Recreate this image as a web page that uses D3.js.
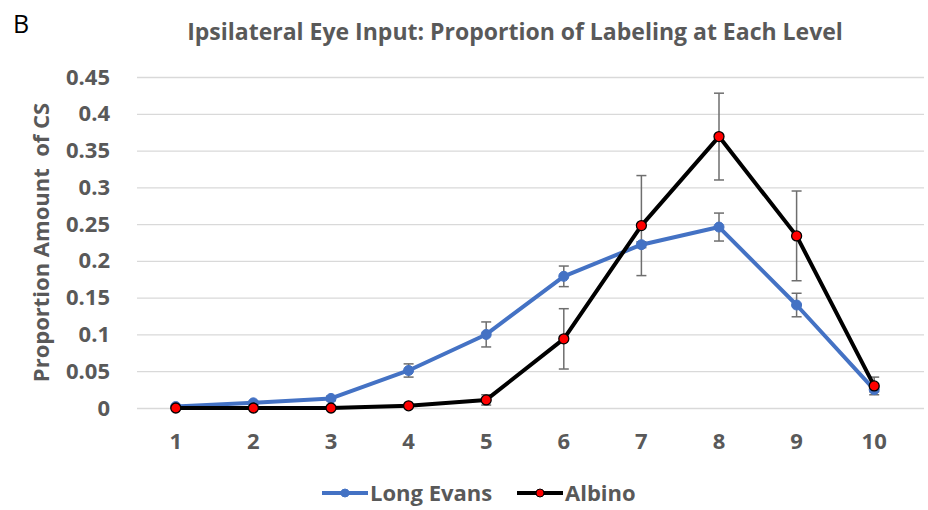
<!DOCTYPE html>
<html>
<head>
<meta charset="utf-8">
<script src="https://cdn.jsdelivr.net/npm/d3@7"></script>
<style>
  body { margin: 0; background: #fff; }
  svg text { font-family: "Open Sans", "Noto Sans", sans-serif; }
</style>
</head>
<body>
<div id="chart"></div>
<script>
const levels = [1, 2, 3, 4, 5, 6, 7, 8, 9, 10];
const yTicks = [0, 0.05, 0.1, 0.15, 0.2, 0.25, 0.3, 0.35, 0.4, 0.45];

const longEvans = [0.002, 0.007, 0.013, 0.051, 0.100, 0.179, 0.222, 0.246, 0.140, 0.025];
const longEvansErr = [0.001, 0.002, 0.003, 0.009, 0.017, 0.014, 0.004, 0.019, 0.016, 0.003];

const albino = [0, 0, 0, 0.003, 0.011, 0.094, 0.248, 0.369, 0.234, 0.030];
const albinoErr = [0, 0, 0, 0.001, 0.007, 0.041, 0.068, 0.059, 0.061, 0.012];

const W = 928;
const H = 510;
const margin = { t: 77, r: 15, b: 102, l: 137 };
const gridRight = 924;

const svg = d3.select('#chart')
  .append('svg')
  .attr('width', W)
  .attr('height', H);

const scaleX = d3.scaleBand()
  .domain(levels)
  .range([margin.l, W - margin.r]);

const scaleY = d3.scaleLinear()
  .domain([0, 0.45])
  .range([H - margin.b, margin.t]);

const cx = (d) => scaleX(d) + scaleX.bandwidth() / 2;

// panel letter + title
svg.append('text')
  .attr('x', 13)
  .attr('y', 33)
  .style('font-size', '25px')
  .style('fill', '#000')
  .text('B');

svg.append('text')
  .attr('x', 515)
  .attr('y', 40)
  .attr('text-anchor', 'middle')
  .style('font-size', '23px')
  .style('font-weight', 'bold')
  .style('fill', '#595959')
  .text('Ipsilateral Eye Input: Proportion of Labeling at Each Level');

// gridlines + y axis
const yAxis = svg.append('g')
  .attr('transform', `translate(${margin.l},0)`)
  .call(d3.axisLeft(scaleY).tickValues(yTicks).tickFormat((d) => `${+d.toFixed(2)}`)
    .tickSize(0).tickPadding(27));

yAxis.select('.domain').remove();

yAxis.selectAll('.tick line')
  .attr('x1', 0)
  .attr('x2', gridRight - margin.l)
  .style('stroke', '#d9d9d9')
  .style('stroke-width', 1.3);

yAxis.selectAll('text')
  .style('font-size', '22px')
  .style('font-weight', 'bold')
  .style('fill', '#595959');

// x axis
const xAxis = svg.append('g')
  .attr('transform', `translate(0,${H - margin.b})`)
  .call(d3.axisBottom(scaleX).tickSize(0).tickPadding(25));

xAxis.select('.domain').remove();

xAxis.selectAll('text')
  .style('font-size', '22px')
  .style('font-weight', 'bold')
  .style('fill', '#595959');

svg.append('text')
  .attr('transform', `translate(49,${scaleY(0.225)}) rotate(-90)`)
  .attr('text-anchor', 'middle')
  .style('font-size', '22px')
  .style('font-weight', 'bold')
  .style('fill', '#595959')
  .style('white-space', 'pre')
  .text('Proportion Amount  of CS');

const lineGenerator = d3.line()
  .x((d) => cx(d.x))
  .y((d) => scaleY(d.y));

const drawErrors = (vals, errs) => {
  const g = svg.append('g');
  levels.forEach((lv, i) => {
    if (!errs[i]) return;
    const x = cx(lv);
    const top = scaleY(vals[i] + errs[i]);
    const bot = scaleY(vals[i] - errs[i]);
    g.append('line').attr('x1', x).attr('x2', x).attr('y1', top).attr('y2', bot);
    g.append('line').attr('x1', x - 5).attr('x2', x + 5).attr('y1', top).attr('y2', top);
    g.append('line').attr('x1', x - 5).attr('x2', x + 5).attr('y1', bot).attr('y2', bot);
  });
  g.selectAll('line')
    .style('stroke', '#6e6e6e')
    .style('stroke-width', 1.5);
};

const drawSeries = (vals, color, marker) => {
  const pts = levels.map((lv, i) => ({ x: lv, y: vals[i] }));
  svg.append('path')
    .attr('d', lineGenerator(pts))
    .style('fill', 'none')
    .style('stroke', color)
    .style('stroke-width', 4)
    .style('stroke-linejoin', 'round');

  svg.append('g')
    .selectAll('circle')
    .data(pts)
    .enter()
    .append('circle')
    .attr('cx', (d) => cx(d.x))
    .attr('cy', (d) => scaleY(d.y))
    .attr('r', marker.r)
    .style('fill', marker.fill)
    .style('stroke', marker.stroke)
    .style('stroke-width', marker.sw);
};

drawErrors(longEvans, longEvansErr);
drawErrors(albino, albinoErr);
drawSeries(longEvans, '#4472c4', { r: 5, fill: '#4472c4', stroke: '#4472c4', sw: 1 });
drawSeries(albino, '#000000', { r: 5, fill: '#ff0000', stroke: '#000', sw: 1.3 });

// legend
const legend = [
  { name: 'Long Evans', x: 322, color: '#4472c4', fill: '#4472c4', stroke: '#4472c4' },
  { name: 'Albino', x: 517, color: '#000', fill: '#ff0000', stroke: '#000' },
];

const lg = svg.append('g').attr('transform', 'translate(0,493)');

legend.forEach((d) => {
  lg.append('line')
    .attr('x1', d.x).attr('x2', d.x + 46)
    .attr('y1', 0).attr('y2', 0)
    .style('stroke', d.color)
    .style('stroke-width', 4);
  lg.append('circle')
    .attr('cx', d.x + 23).attr('cy', 0).attr('r', 4)
    .style('fill', d.fill)
    .style('stroke', d.stroke)
    .style('stroke-width', 1);
  lg.append('text')
    .attr('x', d.x + 48)
    .attr('y', 8)
    .style('font-size', '22px')
    .style('font-weight', 'bold')
    .style('fill', '#595959')
    .text(d.name);
});
</script>
</body>
</html>
